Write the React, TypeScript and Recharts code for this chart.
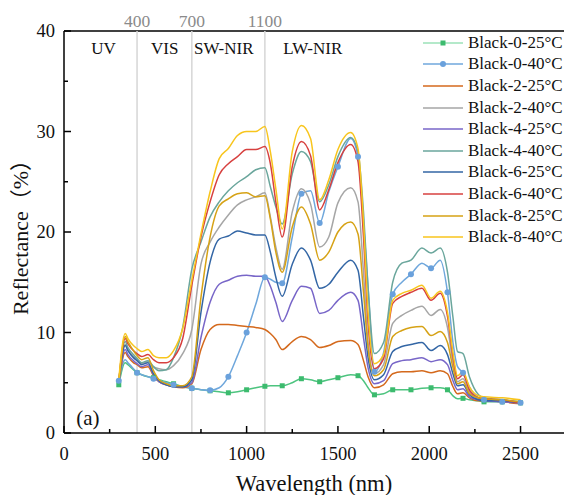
import { LineChart, Line, XAxis, YAxis, ReferenceLine, ReferenceDot, Legend } from 'recharts'

const FONT = 'Liberation Serif, Times New Roman, Times, DejaVu Serif, Noto Sans CJK SC, serif'

const wavelengths = [300, 335, 350, 380, 400, 425, 460, 490, 520, 560, 600, 650, 700, 750, 800, 850, 900, 950, 1000, 1050, 1100, 1130, 1160, 1195, 1250, 1300, 1350, 1400, 1450, 1500, 1570, 1610, 1640, 1665, 1700, 1750, 1800, 1850, 1900, 1960, 2010, 2060, 2100, 2130, 2155, 2185, 2220, 2270, 2300, 2400, 2500]

const black0_25 = [4.8, 7.0, 6.8, 6.3, 6.0, 5.8, 5.6, 5.5, 5.3, 5.1, 4.9, 4.6, 4.45, 4.3, 4.2, 4.1, 4.0, 4.1, 4.3, 4.5, 4.65, 4.7, 4.7, 4.7, 5.0, 5.4, 5.3, 5.1, 5.3, 5.5, 5.8, 5.7, 5.2, 4.5, 3.8, 3.9, 4.3, 4.3, 4.3, 4.45, 4.5, 4.5, 4.3, 3.7, 3.4, 3.45, 3.3, 3.2, 3.1, 3.1, 3.0]
const black0_40 = [5.2, 7.3, 7.0, 6.4, 6.0, 5.8, 5.6, 5.4, 5.2, 5.0, 4.8, 4.6, 4.45, 4.3, 4.25, 4.5, 5.6, 7.7, 10.0, 12.8, 15.5, 15.3, 15.0, 14.9, 19.5, 23.8, 24.1, 20.9, 24.0, 26.5, 29.3, 27.5, 21.0, 14.5, 6.1, 8.0, 13.8, 15.0, 15.8, 16.9, 16.4, 17.2, 14.0, 9.0, 6.6, 6.0, 4.6, 3.5, 3.3, 3.1, 3.0]
const black2_25 = [5.0, 8.0, 7.6, 7.0, 6.8, 6.5, 6.6, 5.7, 5.1, 4.8, 4.6, 4.5, 4.9, 8.3, 10.3, 10.8, 10.8, 10.7, 10.6, 10.5, 10.3, 9.9, 9.3, 8.3, 9.1, 9.6, 9.3, 8.5, 8.7, 9.1, 9.2, 8.8, 7.2, 5.6, 4.5, 4.8, 5.9, 6.1, 6.1, 6.2, 6.0, 6.2, 5.9, 4.6, 3.9, 4.0, 3.5, 3.2, 3.2, 3.1, 2.9]
const black2_40 = [4.9, 8.8, 8.3, 7.6, 7.3, 6.9, 7.1, 6.6, 6.4, 6.3, 6.7, 7.9, 10.3, 16.8, 19.0, 20.5, 21.7, 22.7, 23.2, 23.5, 23.9, 21.5, 18.5, 16.3, 22.0, 24.3, 22.8, 18.5, 19.5, 22.9, 24.4, 23.0, 16.0, 9.0, 5.9, 6.8, 10.9, 11.7, 12.2, 12.6, 11.7, 12.3, 10.5, 7.0, 5.1, 5.4, 4.1, 3.4, 3.3, 3.2, 3.0]
const black4_25 = [5.0, 8.3, 7.8, 7.2, 6.9, 6.6, 6.8, 5.8, 5.1, 4.8, 4.6, 4.6, 5.0, 9.5, 13.0, 14.8, 15.2, 15.6, 15.7, 15.6, 15.6, 14.6, 13.0, 11.1, 13.2, 14.6, 14.4, 11.9, 12.2, 13.2, 14.0, 13.2, 9.5, 6.5, 4.9, 5.2, 6.9, 7.2, 7.3, 7.5, 7.1, 7.3, 6.8, 5.2, 4.3, 4.4, 3.6, 3.3, 3.2, 3.1, 3.0]
const black4_40 = [4.6, 9.1, 8.5, 7.8, 7.4, 7.0, 7.2, 6.6, 6.2, 6.3, 7.5, 10.5, 16.3, 19.0, 21.5, 23.0, 24.1, 24.9, 25.5, 26.2, 26.4, 24.5, 22.5, 20.8, 25.8, 28.0, 27.0, 23.0, 24.7, 27.5, 29.4, 28.0, 22.0, 14.5, 7.9, 9.0, 15.0, 16.9, 17.2, 18.4, 17.9, 18.4, 16.0, 11.5, 8.1, 7.9, 5.6, 3.8, 3.5, 3.3, 3.1]
const black6_25 = [5.2, 8.7, 8.2, 7.5, 7.2, 6.8, 7.0, 5.9, 5.2, 4.8, 4.6, 4.6, 5.3, 12.0, 17.0, 19.3, 19.6, 20.1, 19.9, 19.7, 19.7, 18.0, 15.5, 13.6, 16.8, 18.4, 17.2, 14.4, 14.8, 16.0, 17.2, 16.2, 11.5, 7.5, 5.3, 5.8, 8.1, 8.6, 8.8, 9.0, 8.2, 8.7, 7.8, 5.9, 4.7, 4.8, 3.8, 3.3, 3.2, 3.2, 3.0]
const black6_40 = [5.1, 9.4, 8.9, 8.2, 7.9, 7.6, 7.8, 7.3, 7.0, 7.0, 7.5, 9.4, 14.7, 19.5, 23.0, 25.7, 26.8, 27.5, 28.2, 28.2, 28.5, 26.8, 23.0, 19.5, 26.5, 29.0, 27.6, 22.2, 24.2, 26.9, 28.7, 27.0, 19.5, 11.0, 6.4, 7.4, 12.9, 13.6, 14.0, 14.4, 13.2, 13.9, 11.6, 7.6, 5.4, 5.8, 4.3, 3.5, 3.4, 3.3, 3.0]
const black8_25 = [5.0, 9.6, 9.1, 8.2, 7.7, 7.3, 7.5, 6.2, 5.3, 4.9, 4.7, 4.7, 5.6, 13.5, 19.5, 22.6, 23.3, 23.8, 23.9, 23.5, 23.6, 21.3, 18.0, 16.0, 20.5, 22.5, 20.8, 17.2, 18.0, 20.0, 21.0, 19.8, 14.0, 8.5, 5.7, 6.3, 9.6, 10.2, 10.5, 10.6, 9.7, 10.1, 9.0, 6.5, 4.9, 5.1, 3.9, 3.5, 3.4, 3.3, 3.1]
const black8_40 = [5.3, 9.9, 9.4, 8.7, 8.4, 8.1, 8.3, 7.7, 7.5, 7.5, 8.2, 10.4, 15.2, 19.8, 24.0, 27.3, 28.3, 29.6, 30.0, 30.0, 30.5, 28.0, 24.3, 20.3, 28.0, 30.6, 29.3, 23.2, 25.2, 28.2, 29.9, 28.3, 21.0, 12.0, 6.9, 7.8, 13.2, 13.9, 14.2, 14.7, 13.4, 14.1, 12.0, 8.0, 5.7, 6.1, 4.6, 3.7, 3.6, 3.5, 3.3]

const seriesNames = ['Black-0-25°C', 'Black-0-40°C', 'Black-2-25°C', 'Black-2-40°C', 'Black-4-25°C', 'Black-4-40°C', 'Black-6-25°C', 'Black-6-40°C', 'Black-8-25°C', 'Black-8-40°C']
const seriesValues = [black0_25, black0_40, black2_25, black2_40, black4_25, black4_40, black6_25, black6_40, black8_25, black8_40]
const seriesColors = ['#4DC47F', '#6FA7DC', '#D4691C', '#A6A6A6', '#7866C8', '#6AA69C', '#3366A5', '#D7403F', '#D6A215', '#F8C51D']

// wavelengths where the two Black-0 series carry a marker
const markerWavelengths = [300, 400, 490, 600, 700, 800, 900, 1000, 1100, 1195, 1300, 1400, 1500, 1610, 1700, 1800, 1900, 2010, 2100, 2185, 2300, 2400, 2500]

const boundaries = [400, 700, 1100]
const xTicks = [0, 250, 500, 750, 1000, 1250, 1500, 1750, 2000, 2250, 2500]
const yTicks = [0, 5, 10, 15, 20, 25, 30, 35, 40]

const data = wavelengths.map((wl, i) => {
  const row: any = { wl }
  seriesValues.forEach((vals, k) => {
    row['s' + k] = vals[i]
  })
  return row
})

function XTick({ x, y, payload }: any) {
  const major = payload.value % 500 === 0
  return (
    <g>
      <line x1={x} y1={y} x2={x} y2={y - (major ? 7 : 4)} stroke="#000" strokeWidth={1.5} />
      {major && (
        <text x={x} y={y + 27} textAnchor="middle" fontSize={18.5} fontFamily={FONT} fill="#111">
          {payload.value}
        </text>
      )}
    </g>
  )
}

function YTick({ x, y, payload }: any) {
  const major = payload.value % 10 === 0
  return (
    <g>
      <line x1={x} y1={y} x2={x + (major ? 7 : 4)} y2={y} stroke="#000" strokeWidth={1.5} />
      {major && (
        <text x={x - 9} y={y + 6} textAnchor="end" fontSize={18.5} fontFamily={FONT} fill="#111">
          {payload.value}
        </text>
      )}
    </g>
  )
}

function SquareDot(props: any) {
  const { cx, cy, payload, index } = props
  if (!markerWavelengths.includes(payload.wl)) return <g key={'sq' + index} />
  return <rect key={'sq' + index} x={cx - 2.5} y={cy - 2.5} width={5} height={5} fill="#3CBB6E" />
}

function CircleDot(props: any) {
  const { cx, cy, payload, index } = props
  if (!markerWavelengths.includes(payload.wl)) return <g key={'ci' + index} />
  return <circle key={'ci' + index} cx={cx} cy={cy} r={3} fill="#6AA1DC" />
}

function LegendBox() {
  return (
    <div style={{ fontFamily: FONT, fontSize: 17, color: '#111' }}>
      {seriesNames.map((name, k) => (
        <div key={name} style={{ display: 'flex', alignItems: 'center', height: 21.6, whiteSpace: 'nowrap' }}>
          <svg width={46} height={12} style={{ flex: 'none' }}>
            <line x1={3} x2={43} y1={6} y2={6} stroke={k === 0 ? '#9BE2B8' : seriesColors[k]} strokeWidth={1.5} />
            {k === 0 && <rect x={20.5} y={3.5} width={5} height={5} fill="#3CBB6E" />}
            {k === 1 && <circle cx={23} cy={6} r={3} fill="#6AA1DC" />}
          </svg>
          <span style={{ marginLeft: 2 }}>{name}</span>
        </div>
      ))}
    </div>
  )
}

export default function App() {
  return (
    <div style={{ position: 'absolute', left: 0, top: 0, width: 564, height: 495, background: '#fff', fontFamily: FONT }}>
      <LineChart width={564} height={495} data={data} margin={{ top: 31, right: 0, left: 0, bottom: 0 }}>
        <XAxis
          type="number"
          dataKey="wl"
          domain={[0, 2738]}
          allowDataOverflow
          ticks={xTicks}
          interval={0}
          tick={<XTick />}
          tickLine={false}
          tickSize={0}
          tickMargin={0}
          height={62}
          axisLine={{ stroke: '#000', strokeWidth: 1.5 }}
          label={{ value: 'Wavelength (nm)', position: 'insideBottom', offset: 4, fontSize: 22.5, fontFamily: FONT, fill: '#111' }}
        />
        <YAxis
          type="number"
          domain={[0, 40]}
          ticks={yTicks}
          interval={0}
          tick={<YTick />}
          tickLine={false}
          tickSize={0}
          tickMargin={0}
          width={64}
          axisLine={{ stroke: '#000', strokeWidth: 1.5 }}
          label={{ value: 'Reflectance（%）', angle: -90, position: 'insideLeft', offset: 20, fontSize: 22, fontFamily: FONT, fill: '#111', style: { textAnchor: 'middle' } }}
        />
        <ReferenceLine y={40} stroke="#000" strokeWidth={1.5} />
        {boundaries.map((b) => (
          <ReferenceLine
            key={b}
            x={b}
            stroke="#D6D6D6"
            strokeWidth={1.5}
            label={{ value: String(b), position: 'top', offset: 4, fill: '#8A8A8A', fontSize: 17.5, fontFamily: FONT }}
          />
        ))}
        <ReferenceDot x={216} y={38.3} r={0} fill="none" stroke="none" label={{ value: 'UV', position: 'center', fontSize: 17, fontFamily: FONT, fill: '#111' }} />
        <ReferenceDot x={552} y={38.3} r={0} fill="none" stroke="none" label={{ value: 'VIS', position: 'center', fontSize: 17, fontFamily: FONT, fill: '#111' }} />
        <ReferenceDot x={875} y={38.3} r={0} fill="none" stroke="none" label={{ value: 'SW-NIR', position: 'center', fontSize: 17, fontFamily: FONT, fill: '#111' }} />
        <ReferenceDot x={1362} y={38.3} r={0} fill="none" stroke="none" label={{ value: 'LW-NIR', position: 'center', fontSize: 17, fontFamily: FONT, fill: '#111' }} />
        <ReferenceDot x={131} y={1.5} r={0} fill="none" stroke="none" label={{ value: '(a)', position: 'center', fontSize: 21, fontFamily: FONT, fill: '#111' }} />
        {seriesNames.map((name, k) => (
          <Line
            key={name}
            type="monotone"
            dataKey={'s' + k}
            name={name}
            stroke={seriesColors[k]}
            strokeWidth={1.5}
            dot={k === 0 ? <SquareDot /> : k === 1 ? <CircleDot /> : false}
            activeDot={false}
            isAnimationActive={false}
          />
        ))}
        <Legend
          layout="vertical"
          align="center"
          verticalAlign="middle"
          content={<LegendBox />}
          wrapperStyle={{ left: 420, top: 32, width: 150 }}
        />
      </LineChart>
    </div>
  )
}
